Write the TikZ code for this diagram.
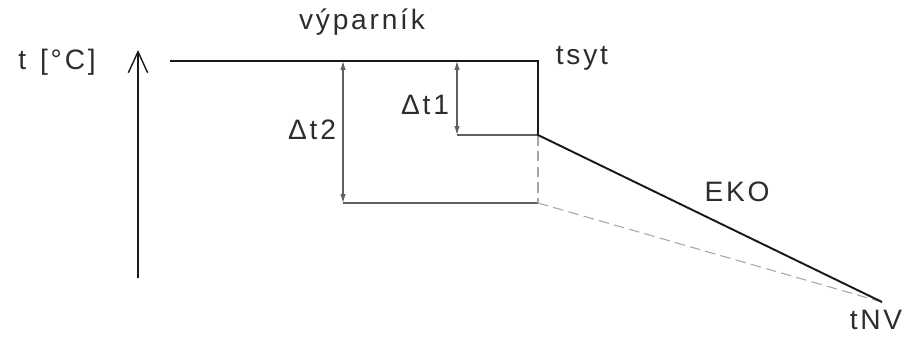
\documentclass[tikz,border=0pt]{standalone}
\usepackage{fontspec}
\setmainfont{Liberation Sans}[LetterSpace=10]
\usetikzlibrary{arrows.meta,positioning,calc}
\definecolor{cLine}{RGB}{25,25,25}
\definecolor{cThin}{RGB}{95,95,95}
\definecolor{cDash}{RGB}{165,165,165}
\definecolor{cText}{RGB}{45,45,45}
\tikzset{
  lbl/.style={font=\fontsize{16}{18}\selectfont,text=cText,inner sep=0pt},
  thkln/.style={line width=1.1pt,color=cLine},
  thinln/.style={line width=0.6pt,color=cThin},
  dashln/.style={line width=0.6pt,color=cDash,dash pattern=on 6pt off 3pt},
  dimarr/.style={{Latex[length=5pt,width=3pt]}-{Latex[length=5pt,width=3pt]},
                 line width=0.6pt,color=cThin},
  axarr/.style={-{Straight Barb[length=12pt,width=11pt,line width=0.8pt]},
                line width=0.8pt,color=cLine}
}
\begin{document}
\begin{tikzpicture}[x=0.02cm,y=-0.02cm]
  \useasboundingbox (0,0) rectangle (906,338);

  % Points of the profile
  \coordinate (ax0) at (138,278);
  \coordinate (ax1) at (138,50);
  \coordinate (evl) at (170,61);
  \coordinate (sat) at (538,61);
  \coordinate (ekin) at (538,135);
  \coordinate (low) at (538,203);
  \coordinate (fw) at (882,302);
  \coordinate (d1top) at (457,61);
  \coordinate (d1bot) at (457,135);
  \coordinate (d2top) at (343,61);
  \coordinate (d2bot) at (343,203);

  % Labels
  \node[lbl] (tunit) at (57,62) {t\hspace{0.5em}[°C]};
  \node[lbl] (evap) at (362,22) {výparník};
  \node[lbl, right=0.35cm of sat, yshift=0.06cm] (tsyt) {tsyt};
  \node[lbl] (dt1) at (425,105) {Δt1};
  \node[lbl] (dt2) at (312,130) {Δt2};
  \node[lbl] (eko) at (737,192) {EKO};
  \node[lbl] (tnv) at (876,320) {tNV};

  % Thin and dashed helper lines
  \draw[thinln] (d1bot) -- (ekin);
  \draw[thinln] (d2bot) -- (low);
  \draw[dashln] (ekin) -- (low);
  \draw[dashln] (low) -- (fw);

  % Dimensions
  \draw[dimarr] (d1top) -- (d1bot);
  \draw[dimarr] (d2top) -- (d2bot);

  % Axis and profile
  \draw[axarr] (ax0) -- (ax1);
  \draw[thkln] (evl) -- (sat) -- (ekin) -- (fw);

\end{tikzpicture}
\end{document}
